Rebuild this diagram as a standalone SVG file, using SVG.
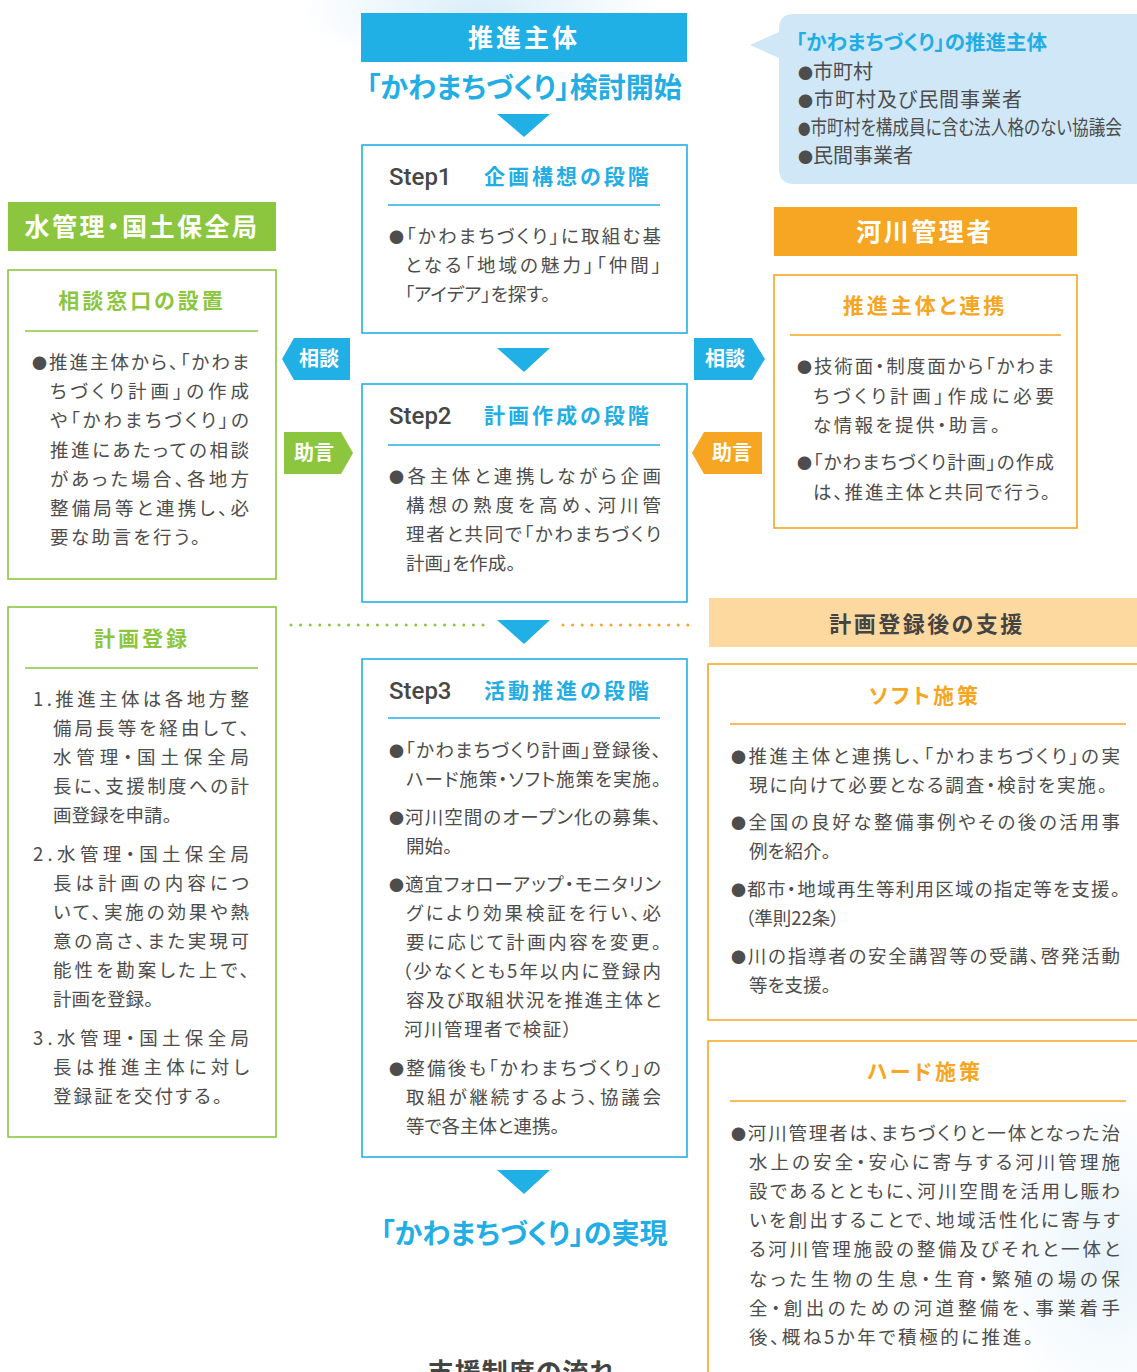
<svg xmlns="http://www.w3.org/2000/svg" width="1137" height="1372" viewBox="0 0 1137 1372">
<defs>
<radialGradient id="glow" cx="0.5" cy="0.5" r="0.5">
<stop offset="0" stop-color="#d6ecf8" stop-opacity="0.9"/>
<stop offset="1" stop-color="#d6ecf8" stop-opacity="0"/>
</radialGradient>
<style>
text { font-family: "Noto Sans CJK JP", "Noto Sans", sans-serif; font-feature-settings: "palt"; }
.body { font-size: 18.5px; fill: #4d4d4d; }
.cb { font-size: 20px; fill: #4d4d4d; }
.bu { font-size: 15px; }
.bar { font-weight: 700; fill: #ffffff; text-anchor: middle; }
.stitle { font-size: 21px; font-weight: 700; letter-spacing: 3px; }
.blue { fill: #22aee5; }
.green { fill: #8cc63f; }
.orange { fill: #f6a623; }
.step { font-family: Roboto, "Liberation Sans", sans-serif; font-size: 24px; font-weight: 500; fill: #474747; }
.bx { fill: #ffffff; stroke-width: 1.6; }
.sb { stroke: #22b0e5; }
.sg { stroke: #8cc63f; }
.so { stroke: #f6a623; }
.rule { stroke-width: 1.6; }
.tag { font-size: 20px; font-weight: 700; fill: #ffffff; text-anchor: middle; }
.big { font-size: 28px; font-weight: 700; text-anchor: middle; }
</style>
</defs>
<rect width="1137" height="1372" fill="#ffffff"/>
<ellipse cx="480" cy="10" rx="180" ry="60" fill="url(#glow)"/>
<ellipse cx="1110" cy="1260" rx="120" ry="160" fill="url(#glow)" opacity="0.6"/>

<!-- Center column -->
<g id="shinsei-shutai">
<rect x="361" y="13" width="326" height="49" fill="#21b0e5"/>
<text class="bar" x="524" y="47" font-size="25" letter-spacing="3">推進主体</text>
</g>
<g id="kento-kaishi">
<text class="big blue" x="524" y="98">「かわまちづくり」検討開始</text>
</g>

<g id="step1">
<rect class="bx sb" x="362" y="145" width="325" height="188"/>
<text class="step" x="389" y="185">Step1</text>
<text class="stitle blue" x="484" y="184">企画構想の段階</text>
<line class="rule sb" x1="388" y1="205" x2="660" y2="205"/>
<text class="body" x="389" y="243" textLength="272" lengthAdjust="spacing"><tspan class="bu">●</tspan>「かわまちづくり」に取組む基</text>
<text class="body" x="405" y="272" textLength="256" lengthAdjust="spacing">となる「地域の魅力」「仲間」</text>
<text class="body" x="405" y="301">「アイデア」を探す。</text>
</g>

<g id="step2">
<rect class="bx sb" x="362" y="384" width="325" height="218"/>
<text class="step" x="389" y="424">Step2</text>
<text class="stitle blue" x="484" y="423">計画作成の段階</text>
<line class="rule sb" x1="388" y1="445" x2="660" y2="445"/>
<text class="body" x="389" y="483" textLength="272" lengthAdjust="spacing"><tspan class="bu">●</tspan>各主体と連携しながら企画</text>
<text class="body" x="406" y="512" textLength="255" lengthAdjust="spacing">構想の熟度を高め、河川管</text>
<text class="body" x="406" y="541" textLength="255" lengthAdjust="spacing">理者と共同で「かわまちづくり</text>
<text class="body" x="406" y="570">計画」を作成。</text>
</g>

<g id="step3">
<rect class="bx sb" x="362" y="659" width="325" height="498"/>
<text class="step" x="389" y="699">Step3</text>
<text class="stitle blue" x="484" y="698">活動推進の段階</text>
<line class="rule sb" x1="388" y1="718" x2="660" y2="718"/>
<text class="body" x="389" y="757" textLength="272" lengthAdjust="spacing"><tspan class="bu">●</tspan>「かわまちづくり計画」登録後、</text>
<text class="body" x="406" y="786" textLength="255" lengthAdjust="spacing">ハード施策・ソフト施策を実施。</text>
<text class="body" x="389" y="824" textLength="272" lengthAdjust="spacing"><tspan class="bu">●</tspan>河川空間のオープン化の募集、</text>
<text class="body" x="406" y="853">開始。</text>
<text class="body" x="389" y="891" textLength="272" lengthAdjust="spacing"><tspan class="bu">●</tspan>適宜フォローアップ・モニタリン</text>
<text class="body" x="406" y="920" textLength="255" lengthAdjust="spacing">グにより効果検証を行い、必</text>
<text class="body" x="406" y="949" textLength="255" lengthAdjust="spacing">要に応じて計画内容を変更。</text>
<text class="body" x="402" y="978" textLength="259" lengthAdjust="spacing">（少なくとも5年以内に登録内</text>
<text class="body" x="406" y="1007" textLength="255" lengthAdjust="spacing">容及び取組状況を推進主体と</text>
<text class="body" x="404" y="1036" textLength="168" lengthAdjust="spacing">河川管理者で検証）</text>
<text class="body" x="389" y="1075" textLength="272" lengthAdjust="spacing"><tspan class="bu">●</tspan>整備後も「かわまちづくり」の</text>
<text class="body" x="406" y="1104" textLength="255" lengthAdjust="spacing">取組が継続するよう、協議会</text>
<text class="body" x="406" y="1133">等で各主体と連携。</text>
</g>

<g id="jitsugen">
<text class="big blue" x="524" y="1244">「かわまちづくり」の実現</text>
</g>
<g id="shien-flow-title">
<text x="522" y="1382" font-size="26" font-weight="700" fill="#444444" text-anchor="middle" letter-spacing="1">支援制度の流れ</text>
</g>

<!-- Callout -->
<g id="callout">
<path d="M794,14 H1137 V184 H794 Q779,184 779,169 V58 L750,45 L779,32 V29 Q779,14 794,14 Z" fill="#d0e7f8"/>
<text x="796" y="50" font-size="20.5" font-weight="700" class="blue">「かわまちづくり」の推進主体</text>
<text class="cb" x="798" y="79"><tspan class="bu">●</tspan>市町村</text>
<text class="cb" x="798" y="107" textLength="224" lengthAdjust="spacing"><tspan class="bu">●</tspan>市町村及び民間事業者</text>
<text class="cb" x="798" y="135" font-size="18.5" textLength="324" lengthAdjust="spacingAndGlyphs"><tspan class="bu">●</tspan>市町村を構成員に含む法人格のない協議会</text>
<text class="cb" x="798" y="163"><tspan class="bu">●</tspan>民間事業者</text>
</g>

<!-- Left column -->
<g id="mizukanri">
<rect x="8" y="202" width="268" height="49" fill="#8cc63f"/>
<text class="bar" x="142" y="236" font-size="25" letter-spacing="2.5">水管理・国土保全局</text>
</g>
<g id="soudan-madoguchi">
<rect class="bx sg" x="8" y="270" width="268" height="309"/>
<text class="stitle green" x="142" y="308" text-anchor="middle">相談窓口の設置</text>
<line class="rule sg" x1="25" y1="331" x2="258" y2="331"/>
<text class="body" x="32" y="369" textLength="217" lengthAdjust="spacing"><tspan class="bu">●</tspan>推進主体から、「かわま</text>
<text class="body" x="50" y="398" textLength="199" lengthAdjust="spacing">ちづくり計画」の作成</text>
<text class="body" x="50" y="427" textLength="199" lengthAdjust="spacing">や「かわまちづくり」の</text>
<text class="body" x="50" y="457" textLength="199" lengthAdjust="spacing">推進にあたっての相談</text>
<text class="body" x="50" y="486" textLength="199" lengthAdjust="spacing">があった場合、各地方</text>
<text class="body" x="50" y="515" textLength="199" lengthAdjust="spacing">整備局等と連携し、必</text>
<text class="body" x="50" y="544" textLength="150" lengthAdjust="spacing">要な助言を行う。</text>
</g>
<g id="keikaku-touroku">
<rect class="bx sg" x="8" y="607" width="268" height="530"/>
<text class="stitle green" x="142" y="646" text-anchor="middle">計画登録</text>
<line class="rule sg" x1="25" y1="668" x2="258" y2="668"/>
<text class="body" x="33" y="706" textLength="216" lengthAdjust="spacing">1.推進主体は各地方整</text>
<text class="body" x="53" y="735" textLength="196" lengthAdjust="spacing">備局長等を経由して、</text>
<text class="body" x="53" y="764" textLength="196" lengthAdjust="spacing">水管理・国土保全局</text>
<text class="body" x="53" y="793" textLength="196" lengthAdjust="spacing">長に、支援制度への計</text>
<text class="body" x="53" y="822">画登録を申請。</text>
<text class="body" x="33" y="861" textLength="216" lengthAdjust="spacing">2.水管理・国土保全局</text>
<text class="body" x="53" y="890" textLength="196" lengthAdjust="spacing">長は計画の内容につ</text>
<text class="body" x="53" y="919" textLength="196" lengthAdjust="spacing">いて、実施の効果や熱</text>
<text class="body" x="53" y="948" textLength="196" lengthAdjust="spacing">意の高さ、また実現可</text>
<text class="body" x="53" y="977" textLength="196" lengthAdjust="spacing">能性を勘案した上で、</text>
<text class="body" x="53" y="1006">計画を登録。</text>
<text class="body" x="33" y="1045" textLength="216" lengthAdjust="spacing">3.水管理・国土保全局</text>
<text class="body" x="53" y="1074" textLength="196" lengthAdjust="spacing">長は推進主体に対し</text>
<text class="body" x="53" y="1103" textLength="169" lengthAdjust="spacing">登録証を交付する。</text>
</g>

<!-- Right column -->
<g id="kasen-kanrisha">
<rect x="774" y="207" width="303" height="49" fill="#f6a623"/>
<text class="bar" x="925" y="241" font-size="25" letter-spacing="2.5">河川管理者</text>
</g>
<g id="renkei">
<rect class="bx so" x="774" y="275" width="303" height="253"/>
<text class="stitle orange" x="925" y="313" text-anchor="middle">推進主体と連携</text>
<line class="rule so" x1="790" y1="335" x2="1061" y2="335"/>
<text class="body" x="797" y="373" textLength="257" lengthAdjust="spacing"><tspan class="bu">●</tspan>技術面・制度面から「かわま</text>
<text class="body" x="813" y="403" textLength="241" lengthAdjust="spacing">ちづくり計画」作成に必要</text>
<text class="body" x="813" y="432" textLength="187" lengthAdjust="spacing">な情報を提供・助言。</text>
<text class="body" x="797" y="469" textLength="257" lengthAdjust="spacing"><tspan class="bu">●</tspan>「かわまちづくり計画」の作成</text>
<text class="body" x="813" y="499" textLength="237" lengthAdjust="spacing">は、推進主体と共同で行う。</text>
</g>
<g id="shien-bar">
<rect x="709" y="598" width="428" height="49" fill="#fdd89f"/>
<text x="927" y="632" font-size="22" font-weight="700" fill="#444444" text-anchor="middle" letter-spacing="2.5">計画登録後の支援</text>
</g>
<g id="soft">
<path class="so" d="M1137,664 H708 V1020 H1137" fill="#ffffff" stroke-width="1.6"/>
<text class="stitle orange" x="925" y="703" text-anchor="middle">ソフト施策</text>
<line class="rule so" x1="730" y1="724" x2="1126" y2="724"/>
<text class="body" x="731" y="763" textLength="389" lengthAdjust="spacing"><tspan class="bu">●</tspan>推進主体と連携し、「かわまちづくり」の実</text>
<text class="body" x="749" y="792" textLength="358" lengthAdjust="spacing">現に向けて必要となる調査・検討を実施。</text>
<text class="body" x="731" y="829" textLength="389" lengthAdjust="spacing"><tspan class="bu">●</tspan>全国の良好な整備事例やその後の活用事</text>
<text class="body" x="749" y="858">例を紹介。</text>
<text class="body" x="731" y="896" textLength="389" lengthAdjust="spacing"><tspan class="bu">●</tspan>都市・地域再生等利用区域の指定等を支援。</text>
<text class="body" x="745" y="925">（準則22条）</text>
<text class="body" x="731" y="963" textLength="389" lengthAdjust="spacing"><tspan class="bu">●</tspan>川の指導者の安全講習等の受講、啓発活動</text>
<text class="body" x="749" y="992">等を支援。</text>
</g>
<g id="hard">
<path class="so" d="M1137,1041 H708 V1372" fill="none" stroke-width="1.6"/>
<text class="stitle orange" x="925" y="1079" text-anchor="middle">ハード施策</text>
<line class="rule so" x1="730" y1="1101" x2="1126" y2="1101"/>
<text class="body" x="731" y="1140" textLength="389" lengthAdjust="spacing"><tspan class="bu">●</tspan>河川管理者は、まちづくりと一体となった治</text>
<text class="body" x="749" y="1169" textLength="371" lengthAdjust="spacing">水上の安全・安心に寄与する河川管理施</text>
<text class="body" x="749" y="1198" textLength="371" lengthAdjust="spacing">設であるとともに、河川空間を活用し賑わ</text>
<text class="body" x="749" y="1227" textLength="371" lengthAdjust="spacing">いを創出することで、地域活性化に寄与す</text>
<text class="body" x="749" y="1256" textLength="371" lengthAdjust="spacing">る河川管理施設の整備及びそれと一体と</text>
<text class="body" x="749" y="1286" textLength="371" lengthAdjust="spacing">なった生物の生息・生育・繁殖の場の保</text>
<text class="body" x="749" y="1315" textLength="371" lengthAdjust="spacing">全・創出のための河道整備を、事業着手</text>
<text class="body" x="749" y="1344" textLength="284" lengthAdjust="spacing">後、概ね5か年で積極的に推進。</text>
</g>

<!-- Connectors -->
<g id="connectors">
<polygon points="497,114 550,114 524,137" fill="#21b0e5"/>
<polygon points="497,348 550,348 524,372" fill="#21b0e5"/>
<polygon points="497,620 550,620 524,644" fill="#21b0e5"/>
<polygon points="497,1170 550,1170 524,1194" fill="#21b0e5"/>
<line x1="291" y1="625" x2="484" y2="625" stroke="#8cc63f" stroke-width="3" stroke-linecap="round" stroke-dasharray="0 9.6"/>
<line x1="563" y1="625" x2="697" y2="625" stroke="#f6a623" stroke-width="3" stroke-linecap="round" stroke-dasharray="0 9.6"/>
<g id="tag-soudan-left">
<polygon points="282,359 294,338 350,338 350,380 294,380" fill="#21b0e5"/>
<text class="tag" x="319" y="366">相談</text>
</g>
<g id="tag-jogen-left">
<polygon points="284,432 341,432 353,453 341,474 284,474" fill="#8cc63f"/>
<text class="tag" x="314" y="460">助言</text>
</g>
<g id="tag-soudan-right">
<polygon points="694,338 752,338 765,359 752,380 694,380" fill="#21b0e5"/>
<text class="tag" x="725" y="366">相談</text>
</g>
<g id="tag-jogen-right">
<polygon points="692,453 704,432 762,432 762,474 704,474" fill="#f6a623"/>
<text class="tag" x="732" y="460">助言</text>
</g>
</g>
</svg>
